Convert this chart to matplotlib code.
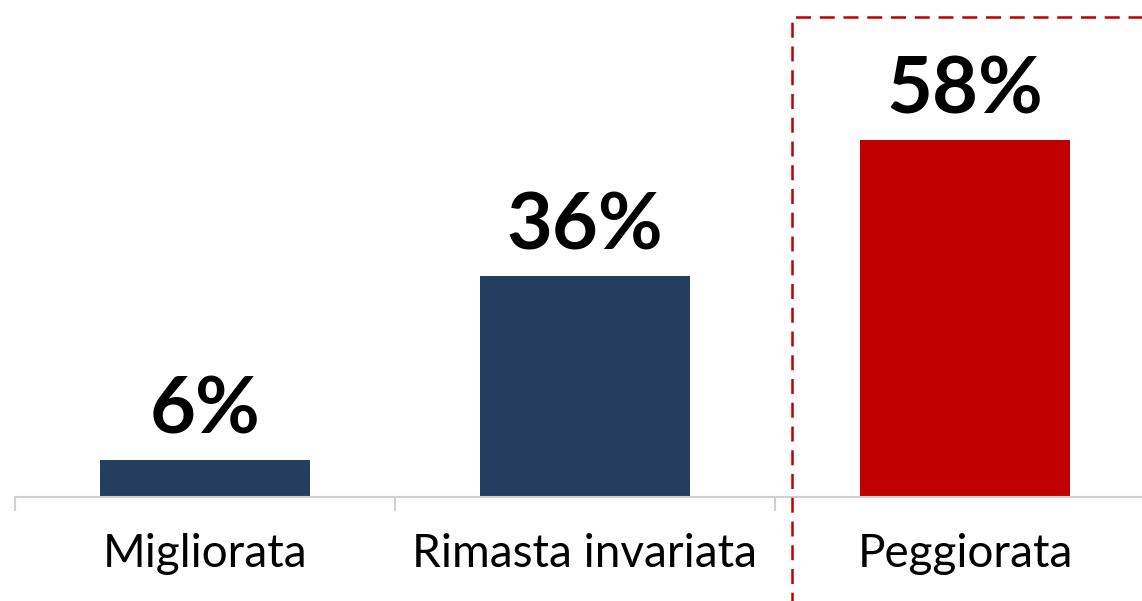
import matplotlib.pyplot as plt
from matplotlib.patches import Rectangle

# Data
categories = ["Migliorata", "Rimasta invariata", "Peggiorata"]
values = [6, 36, 58]
bar_colors = ["#253E5F", "#253E5F", "#C00000"]


def draw_chart():
    fig = plt.figure(figsize=(11.42, 6.01), dpi=100)
    W, H = 1142, 601

    # axes extends past the right edge, like the cropped original
    ax = fig.add_axes([15 / W, 104 / H, 1140 / W, 497 / H])
    x = list(range(len(categories)))
    ax.bar(x, values, width=0.553, color=bar_colors)

    ax.set_xlim(-0.5, 2.5)
    ax.set_ylim(0, 80.8)

    for xi, v in zip(x, values):
        ax.annotate(f"{v}%", (xi, v), xytext=(0, 19), textcoords="offset points",
                    ha="center", va="baseline", fontsize=57, fontweight="bold",
                    family="Lato", color="black")

    # category axis with separating ticks
    for side in ["top", "right", "left"]:
        ax.spines[side].set_visible(False)
    ax.spines["bottom"].set_color("#D0D0D0")
    ax.spines["bottom"].set_linewidth(1.5)
    ax.set_yticks([])
    ax.set_xticks([-0.5, 0.5, 1.5, 2.5])
    ax.set_xticklabels([])
    ax.tick_params(axis="x", length=10, width=1.5, color="#D0D0D0")
    ax.set_xticks(x, minor=True)
    ax.set_xticklabels(categories, minor=True, fontsize=33, family="Lato")
    ax.tick_params(axis="x", which="minor", length=0, pad=26)

    # dashed highlight box around the last category
    box = Rectangle((792 / W, -0.2), 0.5, 1 - 17 / H + 0.2, transform=fig.transFigure,
                    fill=False, edgecolor="#C00000", linewidth=1.8,
                    linestyle=(0, (6, 3.5)), clip_on=False)
    fig.patches.append(box)

    fig.savefig("out.png", dpi=100)


if __name__ == "__main__":
    draw_chart()
